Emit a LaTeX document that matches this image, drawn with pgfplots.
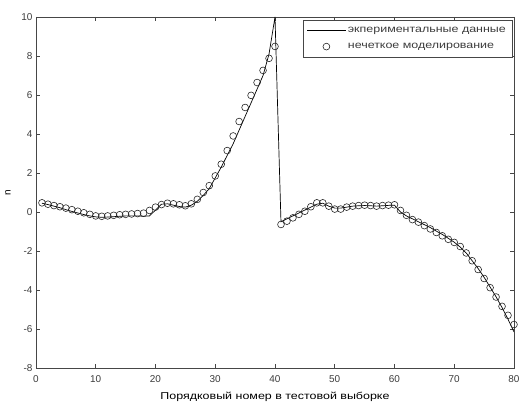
\documentclass[border=0pt]{standalone}
\usepackage{fontspec}
\setmainfont{Liberation Sans}
\newfontfamily\cyr[FakeStretch=1.25]{Liberation Sans}
\usepackage{pgfplots}
\pgfplotsset{compat=1.18}
\definecolor{axgray}{RGB}{70,70,70}
\definecolor{txtgray}{RGB}{60,60,60}
\pgfplotsset{
  linelegend/.style={legend image code/.code={\draw[##1] (0cm,0cm) -- (1.35cm,0cm);}},
  marklegend/.style={legend image code/.code={\draw[##1] plot coordinates {(0.675cm,0cm)};}},
}
\begin{document}
\begin{tikzpicture}
\useasboundingbox (-36bp,-38bp) rectangle (487bp,368bp);
\begin{axis}[
  at={(0,0)}, anchor=south west,
  scale only axis, width=478bp, height=351bp,
  xmin=0, xmax=80, ymin=-8, ymax=10,
  xtick={0,10,...,80}, ytick={-8,-6,...,10},
  tick align=inside, tick pos=both,
  major tick length=4bp,
  axis line style={axgray, line width=0.8pt},
  every tick/.style={axgray, line width=0.6pt},
  /pgf/number format/assume math mode=true,
  tick label style={font=\fontsize{10}{12}\selectfont, text=txtgray},
  xticklabel style={yshift=-4bp},
  xlabel={\cyr Порядковый номер в тестовой выборке},
  ylabel={n},
  label style={font=\fontsize{10}{12}\selectfont, text=txtgray},
  every axis x label/.style={at={(rel axis cs:0.5,0)}, yshift=-29bp, anchor=center},
  every axis y label/.style={at={(rel axis cs:0,0.5)}, xshift=-28bp, rotate=90, anchor=center},
  legend style={at={(0.996,0.991)}, anchor=north east, draw=axgray,
    font=\cyr\fontsize{10}{12}\selectfont, text=txtgray, inner xsep=4bp, inner ysep=5bp,
    row sep=5bp, cells={anchor=west}},
  legend cell align=left,
]
\addplot[black, line width=0.7pt, mark=none, linelegend] coordinates {
(1,0.45)(2,0.38)(3,0.3)(4,0.22)(5,0.12)(6,0.03)(7,-0.05)(8,-0.13)(9,-0.2)(10,-0.25)
(11,-0.27)(12,-0.26)(13,-0.24)(14,-0.22)(15,-0.2)(16,-0.2)(17,-0.2)(18,-0.22)(19,-0.2)(20,0.1)
(21,0.4)(22,0.42)(23,0.35)(24,0.28)(25,0.25)(26,0.35)(27,0.55)(28,0.85)(29,1.2)(30,1.75)
(31,2.3)(32,2.9)(33,3.5)(34,4.2)(35,4.9)(36,5.6)(37,6.3)(38,7.0)(39,8.1)(40,10.0)
(41,-0.5)(42,-0.35)(43,-0.2)(44,-0.05)(45,0.1)(46,0.25)(47,0.4)(48,0.45)(49,0.3)(50,0.2)
(51,0.2)(52,0.25)(53,0.3)(54,0.32)(55,0.33)(56,0.32)(57,0.3)(58,0.32)(59,0.34)(60,0.35)
(61,0.0)(62,-0.2)(63,-0.35)(64,-0.5)(65,-0.65)(66,-0.8)(67,-0.98)(68,-1.15)(69,-1.35)(70,-1.55)
(71,-1.8)(72,-2.1)(73,-2.5)(74,-2.9)(75,-3.35)(76,-3.85)(77,-4.35)(78,-4.9)(79,-5.5)(80,-6.15)
};
\addlegendentry{экпериментальные данные}
\addplot[only marks, mark=o, mark size=3.4bp, black!85, mark options={line width=0.6pt}, marklegend] coordinates {
(1,0.47)(2,0.4)(3,0.33)(4,0.27)(5,0.2)(6,0.12)(7,0.04)(8,-0.04)(9,-0.12)(10,-0.2)
(11,-0.22)(12,-0.2)(13,-0.17)(14,-0.14)(15,-0.12)(16,-0.1)(17,-0.08)(18,-0.06)(19,0.08)(20,0.25)
(21,0.38)(22,0.45)(23,0.42)(24,0.37)(25,0.32)(26,0.42)(27,0.65)(28,1.0)(29,1.35)(30,1.85)
(31,2.45)(32,3.15)(33,3.9)(34,4.64)(35,5.36)(36,5.98)(37,6.64)(38,7.26)(39,7.88)(40,8.49)
(41,-0.64)(42,-0.47)(43,-0.3)(44,-0.12)(45,0.04)(46,0.27)(47,0.47)(48,0.47)(49,0.3)(50,0.15)
(51,0.15)(52,0.25)(53,0.3)(54,0.33)(55,0.35)(56,0.33)(57,0.3)(58,0.33)(59,0.35)(60,0.37)
(61,0.08)(62,-0.17)(63,-0.39)(64,-0.52)(65,-0.7)(66,-0.87)(67,-1.05)(68,-1.22)(69,-1.4)(70,-1.56)
(71,-1.77)(72,-2.1)(73,-2.5)(74,-2.95)(75,-3.41)(76,-3.88)(77,-4.36)(78,-4.84)(79,-5.3)(80,-5.77)
};
\addlegendentry{нечеткое моделирование}
\end{axis}
\end{tikzpicture}
\end{document}
